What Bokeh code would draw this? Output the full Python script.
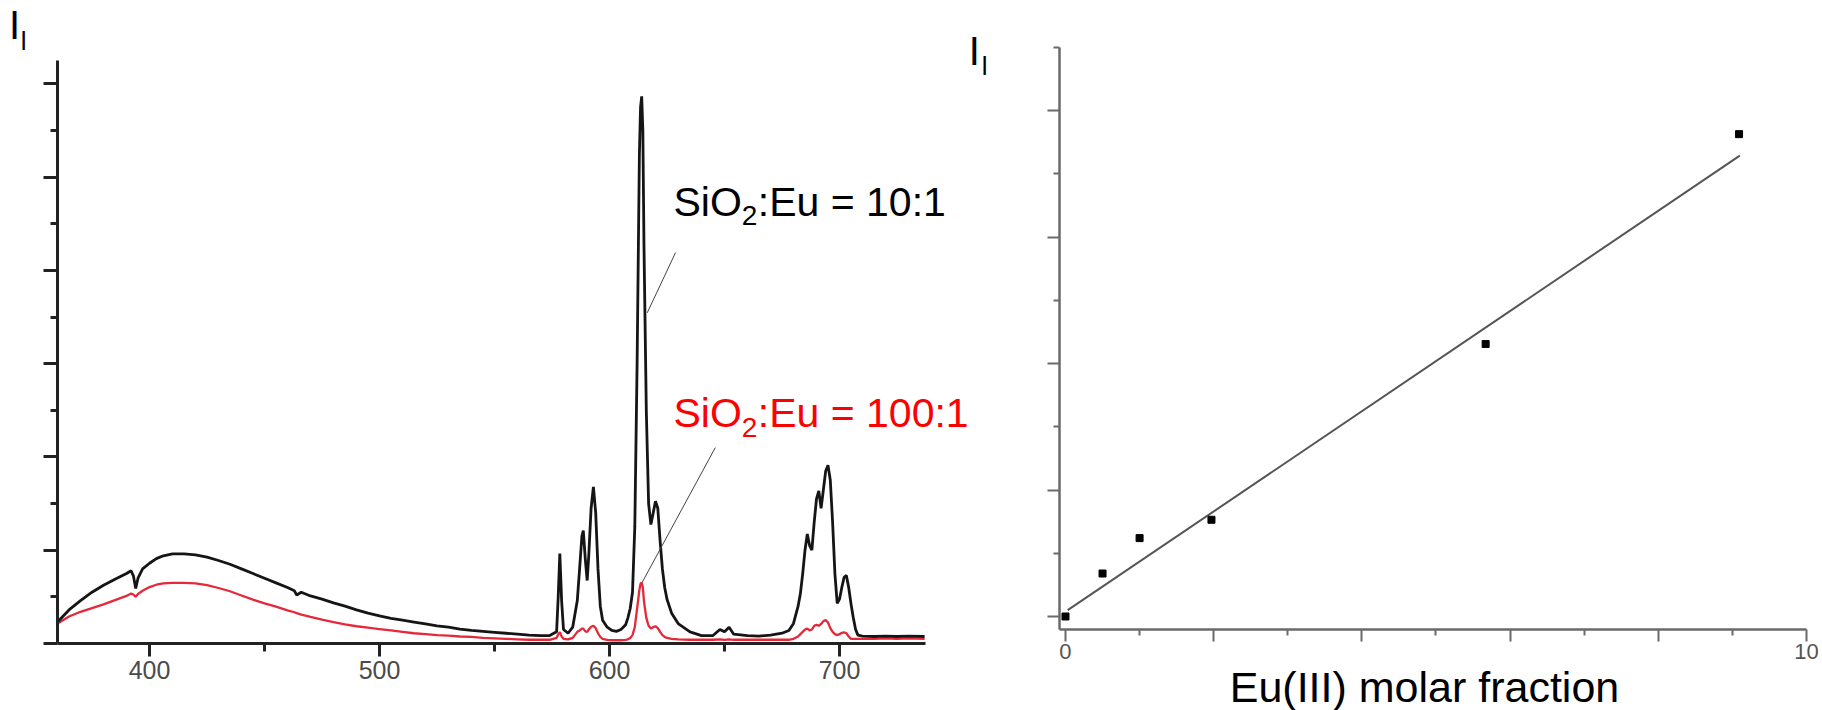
from bokeh.plotting import figure
from bokeh.models import FixedTicker, Label, Range1d, LinearAxis
from bokeh.embed import file_html
from bokeh.resources import INLINE

# ---------------- data: emission spectra (left panel) ----------------
wavelength = [360, 365, 370, 375, 380, 385, 390, 392, 393, 394, 395, 397, 400, 403, 406, 410,
              415, 420, 425, 430, 435, 440, 445, 450, 455, 460, 463, 464, 466, 470, 475, 480,
              485, 490, 495, 500, 505, 510, 515, 520, 525, 530, 535, 540, 545, 550, 555, 560,
              565, 570, 574, 577, 577.7, 578.4, 579.2, 580, 582, 584, 586, 587, 588, 588.6,
              589.5, 590.3, 591, 592, 593, 594, 595, 596, 597, 599, 601, 603, 605, 607, 608,
              609, 610, 611, 612, 613, 613.5, 614, 614.5, 615, 616, 617, 618, 619, 620, 621,
              622, 623, 624, 625, 627, 630, 635, 640, 645, 648, 650, 652, 654, 660, 665, 670,
              675, 678, 680, 682, 683, 684, 685, 686, 687, 688, 689, 690, 691, 692, 693, 694,
              695, 696, 697, 698, 699, 700, 701, 702, 703, 704, 705, 706, 707, 708, 710, 715,
              720, 725, 730, 737]
intensity_10 = [0.46, 0.72, 0.92, 1.10, 1.25, 1.38, 1.50, 1.56, 1.45, 1.18, 1.40, 1.60, 1.72, 1.82, 1.88, 1.92,
                1.92, 1.90, 1.85, 1.78, 1.70, 1.60, 1.50, 1.40, 1.30, 1.20, 1.13, 1.04, 1.10, 1.02, 0.95, 0.87,
                0.80, 0.72, 0.65, 0.59, 0.54, 0.50, 0.46, 0.42, 0.38, 0.35, 0.31, 0.28, 0.26, 0.24, 0.22, 0.20,
                0.18, 0.17, 0.17, 0.25, 1.00, 1.93, 0.90, 0.30, 0.22, 0.35, 0.92, 1.60, 2.30, 2.42,
                1.80, 1.35, 1.90, 2.90, 3.36, 2.80, 1.60, 0.80, 0.50, 0.35, 0.28, 0.26, 0.30, 0.40, 0.55,
                0.75, 1.10, 2.50, 6.00, 10.50, 11.50, 11.73, 11.00, 8.50, 5.00, 3.00, 2.55, 2.80, 3.05, 2.90,
                2.20, 1.60, 1.20, 0.95, 0.65, 0.42, 0.25, 0.17, 0.17, 0.30, 0.25, 0.35, 0.20, 0.17, 0.16, 0.18,
                0.22, 0.28, 0.43, 0.80, 1.07, 1.50, 2.00, 2.35, 2.10, 2.00, 2.60, 3.10, 3.27, 2.90, 3.30, 3.70,
                3.82, 3.50, 2.60, 1.50, 0.86, 0.95, 1.20, 1.42, 1.46, 1.20, 0.85, 0.55, 0.30, 0.18, 0.16, 0.15,
                0.16, 0.15, 0.16, 0.15]
intensity_100 = [0.43, 0.58, 0.68, 0.76, 0.84, 0.93, 1.02, 1.07, 1.05, 1.00, 1.06, 1.13, 1.21, 1.26, 1.29, 1.30,
                 1.30, 1.29, 1.25, 1.19, 1.12, 1.03, 0.94, 0.86, 0.79, 0.71, 0.67, 0.65, 0.62, 0.57, 0.51, 0.46,
                 0.41, 0.37, 0.34, 0.31, 0.28, 0.25, 0.22, 0.20, 0.18, 0.17, 0.15, 0.14, 0.12, 0.11, 0.10, 0.09,
                 0.08, 0.08, 0.08, 0.12, 0.20, 0.24, 0.15, 0.10, 0.09, 0.12, 0.25, 0.28, 0.32, 0.32,
                 0.26, 0.25, 0.30, 0.36, 0.38, 0.33, 0.22, 0.14, 0.10, 0.08, 0.07, 0.07, 0.07, 0.08, 0.09,
                 0.12, 0.18, 0.35, 0.75, 1.15, 1.28, 1.31, 1.20, 0.90, 0.55, 0.38, 0.32, 0.35, 0.37, 0.33,
                 0.25, 0.18, 0.14, 0.12, 0.10, 0.09, 0.08, 0.08, 0.08, 0.09, 0.08, 0.09, 0.08, 0.08, 0.08, 0.08,
                 0.08, 0.08, 0.10, 0.15, 0.20, 0.25, 0.30, 0.32, 0.28, 0.30, 0.38, 0.40, 0.38, 0.42, 0.48, 0.50,
                 0.45, 0.33, 0.25, 0.20, 0.18, 0.20, 0.23, 0.24, 0.22, 0.15, 0.10, 0.10, 0.10, 0.10, 0.10, 0.10,
                 0.11, 0.10, 0.11, 0.10]
x_ticks_left = [400, 500, 600, 700]
x_minor_left = [450, 550, 650]
y_ticks_left = [0, 2, 4, 6, 8, 10, 12]
y_minor_left = [1, 3, 5, 7, 9, 11]
label_10 = ["SiO", "2", ":Eu = 10:1"]
label_100 = ["SiO", "2", ":Eu = 100:1"]
leader_10_x = [628.7, 616.4]
leader_10_y = [8.38, 7.09]
leader_100_x = [646.0, 614.2]
leader_100_y = [4.20, 1.31]

# ---------------- data: intensity vs Eu fraction (right panel) ----------------
eu_fraction = [0.0, 0.5, 1.0, 1.97, 5.67, 9.09]
eu_intensity = [0.0, 0.68, 1.24, 1.53, 4.31, 7.63]
fit_x = [0.03, 9.10]
fit_y = [0.10, 7.29]
x_ticks_right = [0, 2, 4, 6, 8, 10]
x_minor_right = [1, 3, 5, 7, 9]
y_ticks_right = [0, 2, 4, 6, 8]
y_minor_right = [1, 3, 5, 7, 9]
x_title_right = "Eu(III) molar fraction"

FONT = "Liberation Sans"

# one canvas holding both panels; each panel has its own ranges and axes
p = figure(width=1822, height=710, output_backend="svg", toolbar_location=None,
           x_axis_type=None, y_axis_type=None,
           x_range=Range1d(335.217, 1127.391), y_range=Range1d(-1.4365, 13.7864),
           min_border_left=0, min_border_right=0, min_border_top=0, min_border_bottom=0)
p.extra_x_ranges = {"rx": Range1d(-14.372, 10.216)}
p.extra_y_ranges = {"ry": Range1d(-1.487, 9.744)}
p.title.visible = False
p.outline_line_color = None
p.background_fill_color = "white"
p.border_fill_color = "white"

# ---- left panel glyphs ----
p.line(wavelength, intensity_100, line_color="#e5283a", line_width=2.3)
p.line(wavelength, intensity_10, line_color="#151515", line_width=2.8)
p.line(leader_10_x, leader_10_y, line_color="#444444", line_width=1)
p.line(leader_100_x, leader_100_y, line_color="#444444", line_width=1)

def style_axis(ax, color, lw, tlw, major_out, minor_out):
    ax.axis_line_width = lw
    ax.axis_line_color = color
    ax.major_tick_line_width = tlw
    ax.major_tick_line_color = color
    ax.minor_tick_line_width = tlw
    ax.minor_tick_line_color = color
    ax.major_tick_out = major_out
    ax.major_tick_in = 0
    ax.minor_tick_out = minor_out
    ax.minor_tick_in = 0

xa = LinearAxis(fixed_location=0, bounds=(360, 737.4),
                ticker=FixedTicker(ticks=x_ticks_left, minor_ticks=x_minor_left))
style_axis(xa, "#222222", 3, 3, 13, 8)
xa.major_label_text_font = FONT
xa.major_label_text_font_size = "25px"
xa.major_label_text_color = "#4a4a4a"
xa.major_label_standoff = 4
p.add_layout(xa, "below")

ya = LinearAxis(fixed_location=360, bounds=(0, 12.5),
                ticker=FixedTicker(ticks=y_ticks_left, minor_ticks=y_minor_left))
ya.major_label_overrides = {t: "" for t in y_ticks_left}
style_axis(ya, "#222222", 3, 3, 14, 7)
p.add_layout(ya, "left")

# ---- right panel glyphs ----
p.line(fit_x, fit_y, line_color="#555555", line_width=2, x_range_name="rx", y_range_name="ry")
p.scatter(eu_fraction, eu_intensity, marker="square", size=7, fill_color="black",
          line_color="black", x_range_name="rx", y_range_name="ry")

xb = LinearAxis(x_range_name="rx", y_range_name="ry", fixed_location=-0.206, bounds=(-0.081, 10),
                ticker=FixedTicker(ticks=x_ticks_right, minor_ticks=x_minor_right))
xb.major_label_overrides = {2: "", 4: "", 6: "", 8: ""}
style_axis(xb, "#6a6a6a", 2.5, 2, 12, 6)
xb.major_label_text_font = FONT
xb.major_label_text_font_size = "22px"
xb.major_label_text_color = "#555555"
xb.major_label_standoff = 2
p.add_layout(xb, "below")

yb = LinearAxis(x_range_name="rx", y_range_name="ry", fixed_location=-0.081, bounds=(-0.206, 9.0),
                ticker=FixedTicker(ticks=y_ticks_right, minor_ticks=y_minor_right))
yb.major_label_overrides = {t: "" for t in y_ticks_right}
style_axis(yb, "#6a6a6a", 2.5, 2, 12, 6)
p.add_layout(yb, "left")

def add_label(x, y, text, size, color="black", align="left", right=False):
    kw = dict(x_range_name="rx", y_range_name="ry") if right else {}
    p.add_layout(Label(x=x, y=y, text=text, text_font=FONT, text_font_size=size,
                       text_color=color, text_align=align, text_baseline="alphabetic", **kw))

# I_l labels
add_label(338.91, 13.251, "I", "40px")
add_label(344.04, 12.928, "l", "26px")
add_label(-1.306, 8.953, "I", "40px", right=True)
add_label(-1.130, 8.715, "l", "26px", right=True)
# series annotations
add_label(627.83, 9.456, label_10[0], "41px")
add_label(657.52, 9.176, label_10[1], "28px")
add_label(664.48, 9.456, label_10[2], "41px")
add_label(627.83, 4.932, label_100[0], "41px", "#ff0000")
add_label(657.52, 4.631, label_100[1], "28px", "#ff0000")
add_label(664.48, 4.932, label_100[2], "41px", "#ff0000")
# right x title
add_label(4.845, -1.108, x_title_right, "43px", align="center", right=True)

open("out.html", "w").write(file_html(p, INLINE))
